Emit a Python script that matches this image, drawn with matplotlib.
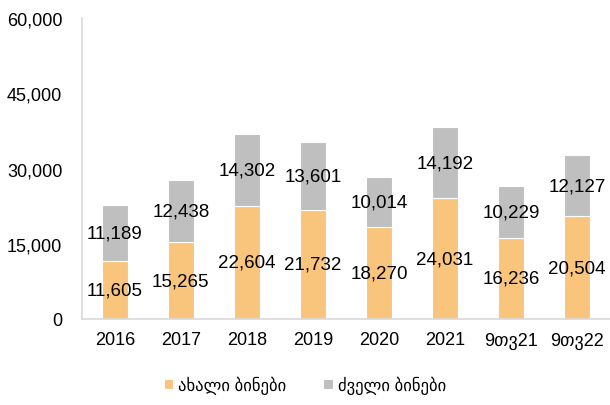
import matplotlib.pyplot as plt
import numpy as np

plt.rcParams['font.family'] = ['Liberation Sans', 'DejaVu Sans']

categories = ['2016', '2017', '2018', '2019', '2020', '2021', '9თვ21', '9თვ22']
new_homes = [11605, 15265, 22604, 21732, 18270, 24031, 16236, 20504]
old_homes = [11189, 12438, 14302, 13601, 10014, 14192, 10229, 12127]
series_names = ['ახალი ბინები', 'ძველი ბინები']

c_new = '#F9C47C'
c_old = '#BFBFBF'

fig = plt.figure(figsize=(6.1, 4.06), dpi=100)
ax = fig.add_axes([0.134, 0.212, 0.866, 0.741])

x = np.arange(len(categories))
w = 0.39
b1 = ax.bar(x, new_homes, w, color=c_new, edgecolor='white', linewidth=0.8, label=series_names[0])
b2 = ax.bar(x, old_homes, w, bottom=new_homes, color=c_old, edgecolor='white', linewidth=0.8, label=series_names[1])

for i in range(len(x)):
    ax.text(x[i], new_homes[i] / 2, f'{new_homes[i]:,}', ha='center', va='center', fontsize=13.5)
    ax.text(x[i], new_homes[i] + old_homes[i] / 2, f'{old_homes[i]:,}', ha='center', va='center', fontsize=13.5)

ax.set_xlim(-0.5, len(categories) - 0.5)
ax.set_ylim(0, 60000)
ax.set_yticks(np.arange(0, 60001, 15000))
ax.set_yticklabels([f'{v:,}' for v in range(0, 60001, 15000)])
ax.set_xticks(x)
ax.set_xticklabels(categories)
ax.tick_params(axis='both', length=0, labelsize=13)
ax.tick_params(axis='y', pad=14)
ax.tick_params(axis='x', pad=9)

for s in ['top', 'right']:
    ax.spines[s].set_visible(False)
for s in ['left', 'bottom']:
    ax.spines[s].set_color('#D9D9D9')
    ax.spines[s].set_linewidth(1.2)

fig.legend(handles=[b1, b2], loc='center', bbox_to_anchor=(0.5, 0.05), ncol=2, frameon=False,
           fontsize=12, handlelength=0.55, handleheight=0.55, handletextpad=0.3, columnspacing=2.2)

fig.savefig('out.png', dpi=100)
